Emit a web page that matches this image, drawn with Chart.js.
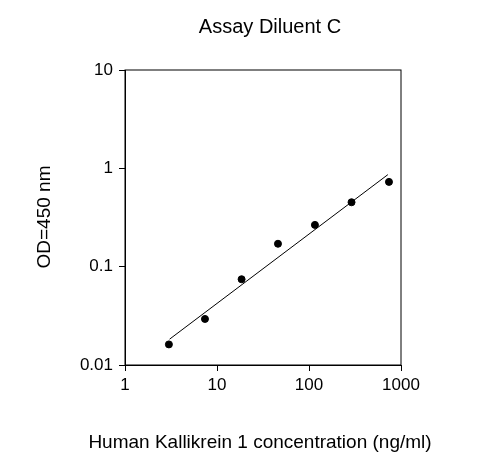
<!DOCTYPE html>
<html>
<head>
<script src="https://cdn.jsdelivr.net/npm/chart.js@4"></script>
<style>body{margin:0;background:#fff}#wrap{width:504px;height:461px}</style>
</head>
<body>
<div id="wrap"><canvas id="c"></canvas></div>
<script>
const concentrations = [3, 7.4, 18.5, 46, 116, 290, 740];
const odValues = [0.0162, 0.0294, 0.0745, 0.171, 0.266, 0.452, 0.728];
const fitX = [3.05, 720];
const fitY = [0.0183, 0.863];
const xTicks = [1, 10, 100, 1000];
const yTicks = [0.01, 0.1, 1, 10];
const chartTitle = "Assay Diluent C";
const xTitle = "Human Kallikrein 1 concentration (ng/ml)";
const yTitle = "OD=450 nm";

const font = "'Liberation Sans', Arial, sans-serif";

// frame around the plot plus the three titles, placed like the original
const frame = {
  id: "frame",
  afterDraw(chart) {
    const { ctx, chartArea: a } = chart;
    ctx.save();
    ctx.strokeStyle = "#000";
    ctx.lineWidth = 1;
    ctx.strokeRect(a.left, a.top, a.right - a.left, a.bottom - a.top);
    ctx.fillStyle = "#000";
    ctx.textAlign = "center";
    ctx.textBaseline = "middle";
    ctx.font = "20px " + font;
    ctx.fillText(chartTitle, 270, 27);
    ctx.font = "19px " + font;
    ctx.fillText(xTitle, 260, 443);
    ctx.translate(45, 217);
    ctx.rotate(-Math.PI / 2);
    ctx.fillText(yTitle, 0, 0);
    ctx.restore();
  },
};

new Chart(document.getElementById("c"), {
  type: "scatter",
  data: {
    datasets: [
      {
        data: concentrations.map((x, i) => ({ x, y: odValues[i] })),
        backgroundColor: "#000",
        borderColor: "#000",
        pointRadius: 3.5,
      },
      {
        type: "line",
        data: fitX.map((x, i) => ({ x, y: fitY[i] })),
        borderColor: "#000",
        borderWidth: 1,
        pointRadius: 0,
      },
    ],
  },
  options: {
    responsive: true,
    maintainAspectRatio: false,
    animation: false,
    layout: { padding: { left: 0, right: 103, top: 70, bottom: 0 } },
    plugins: {
      legend: { display: false },
      tooltip: { enabled: false },
    },
    scales: {
      x: {
        type: "logarithmic",
        min: 1,
        max: 1000,
        afterBuildTicks: (s) => { s.ticks = xTicks.map((v) => ({ value: v })); },
        afterFit: (s) => { s.height = 96; },
        ticks: {
          color: "#000",
          font: { family: font, size: 17 },
          callback: (v) => String(v),
          maxRotation: 0,
          padding: 4,
        },
        grid: { drawOnChartArea: false, tickLength: 6, color: "#000" },
        border: { color: "#000" },
      },
      y: {
        type: "logarithmic",
        min: 0.01,
        max: 10,
        afterBuildTicks: (s) => { s.ticks = yTicks.map((v) => ({ value: v })); },
        afterFit: (s) => { s.width = 125; },
        ticks: {
          color: "#000",
          font: { family: font, size: 17 },
          callback: (v) => String(v),
          padding: 6,
        },
        grid: { drawOnChartArea: false, tickLength: 6, color: "#000" },
        border: { color: "#000" },
      },
    },
  },
  plugins: [frame],
});
</script>
</body>
</html>
